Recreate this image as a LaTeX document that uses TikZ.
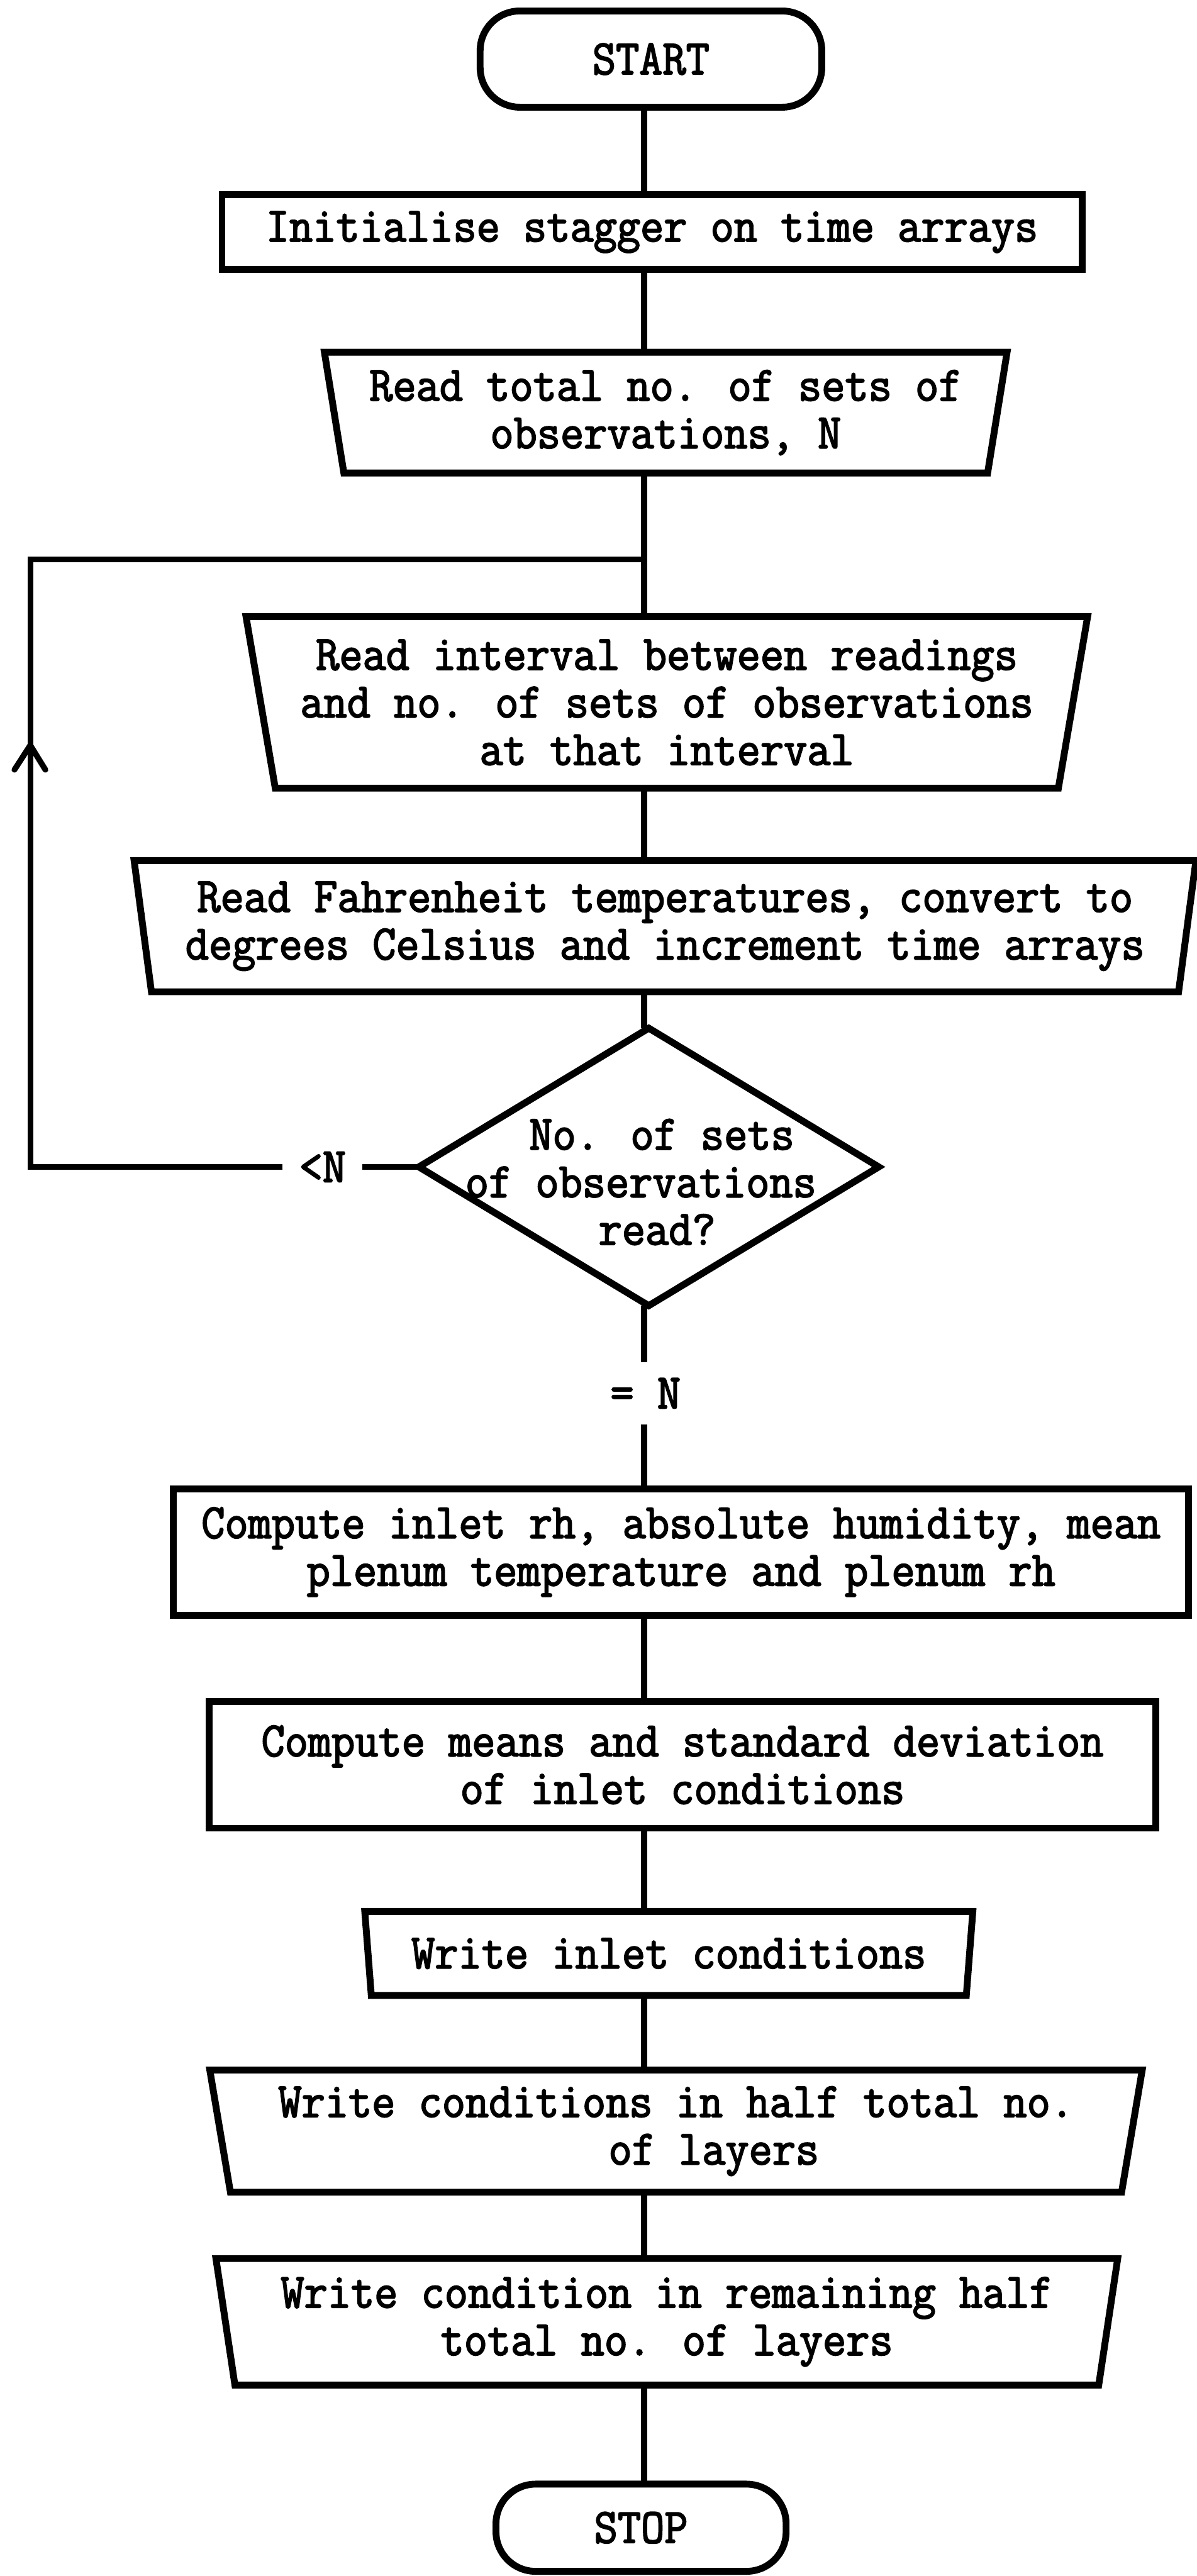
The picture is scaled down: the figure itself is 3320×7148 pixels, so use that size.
\documentclass[tikz,border=0pt]{standalone}
\usepackage{fontspec}
\newfontfamily\twfont[FakeBold=2.5, FakeStretch=0.92]{Latin Modern Mono}
\usetikzlibrary{shapes.geometric}
\begin{document}
\begin{tikzpicture}[x=0.1pt,y=-0.1pt,
  every node/.style={font=\twfont\fontsize{13.7}{13.2}\selectfont, align=center, inner sep=0pt, outer sep=0pt},
  shapeline/.style={draw, line width=1.9pt},
  procbox/.style={shapeline, rectangle},
  iobox/.style={shapeline, trapezium, trapezium left angle=#1, trapezium right angle=#1, trapezium stretches body},
  iobox/.default=102.5,
  termbox/.style={shapeline, rectangle, rounded corners=11pt},
  decbox/.style={shapeline, diamond},
  conn/.style={line width=1.6pt},
  lbl/.style={inner xsep=4.6pt, inner ysep=4.5pt}
]
\useasboundingbox (0,0) rectangle (3320,7148);

\coordinate (spine) at (1787,0);
\coordinate (leftx) at (84,0);

\node[termbox, minimum width=94.8pt, minimum height=26.7pt] (start) at (1806,164) {START};
\node[procbox, minimum width=238.6pt, minimum height=20.7pt] (init) at (1809,644) {Initialise stagger on time arrays};
\node[iobox=102.9, minimum width=189.4pt, minimum height=33.5pt] (readN) at (1847,1145) {Read total no. of sets of\\observations, N};
\node[iobox=103.1, minimum width=233.5pt, minimum height=47.6pt] (readint) at (1850,1949) {Read interval between readings\\and no. of sets of observations\\at that interval};
\node[iobox=101, minimum width=294.6pt, minimum height=36.4pt] (readF) at (1845,2570) {Read Fahrenheit temperatures, convert to\\degrees Celsius and increment time arrays};
\node[decbox, minimum width=127.6pt, minimum height=77pt] (dec) at (1800,3238) {};
\node (dectxt) at (1778,3280) {\hspace*{11.6pt}No. of sets\\of observations\\\hspace*{9pt}read?};
\node[lbl] (ltN) at (895,3238) {<N};
\node[lbl] (eqN) at (1791,3866) {= N};
\node[procbox, minimum width=281.7pt, minimum height=35.1pt] (compin) at (1889.5,4306.5) {Compute inlet rh, absolute humidity, mean\\plenum temperature and plenum rh};
\node[procbox, minimum width=262.7pt, minimum height=35.2pt] (compmean) at (1893.5,4897) {Compute means and standard deviation\\of inlet conditions};
\node[iobox=102, minimum width=168.7pt, minimum height=23.3pt] (wrinlet) at (1855.5,5420.5) {Write inlet conditions};
\node[iobox=103, minimum width=258.7pt, minimum height=33.9pt] (wrhalf) at (1875.5,5913.5) {Write conditions in half total no.\\\hspace*{21pt}of layers};
\node[iobox=102, minimum width=250.2pt, minimum height=35.1pt] (wrrem) at (1850,6442.5) {Write condition in remaining half\\total no. of layers};
\node[termbox, minimum width=80.5pt, minimum height=24.2pt] (stop) at (1778.5,7014) {STOP};

\coordinate (join) at (1787,1552);
\coordinate (arrowtip) at (84,2068);

\draw[conn] (start.south -| spine) -- (init.north -| spine);
\draw[conn] (init.south -| spine) -- (readN.north -| spine);
\draw[conn] (readN.south -| spine) -- (readint.north -| spine);
\draw[conn] (readint.south -| spine) -- (readF.north -| spine);
\draw[conn] (readF.south -| spine) -- (dec.north -| spine);
\draw[conn] (dec.south -| spine) -- (eqN.north -| spine);
\draw[conn] (eqN.south -| spine) -- (compin.north -| spine);
\draw[conn] (compin.south -| spine) -- (compmean.north -| spine);
\draw[conn] (compmean.south -| spine) -- (wrinlet.north -| spine);
\draw[conn] (wrinlet.south -| spine) -- (wrhalf.north -| spine);
\draw[conn] (wrhalf.south -| spine) -- (wrrem.north -| spine);
\draw[conn] (wrrem.south -| spine) -- (stop.north -| spine);

\draw[conn] (dec.west) -- (ltN.east);
\draw[conn] (ltN.west) -- (ltN.west -| leftx) |- (join);
\draw[conn, line cap=round, line join=miter] ([shift={(-44,68)}]arrowtip) -- (arrowtip) -- ([shift={(42,68)}]arrowtip);
\end{tikzpicture}
\end{document}
